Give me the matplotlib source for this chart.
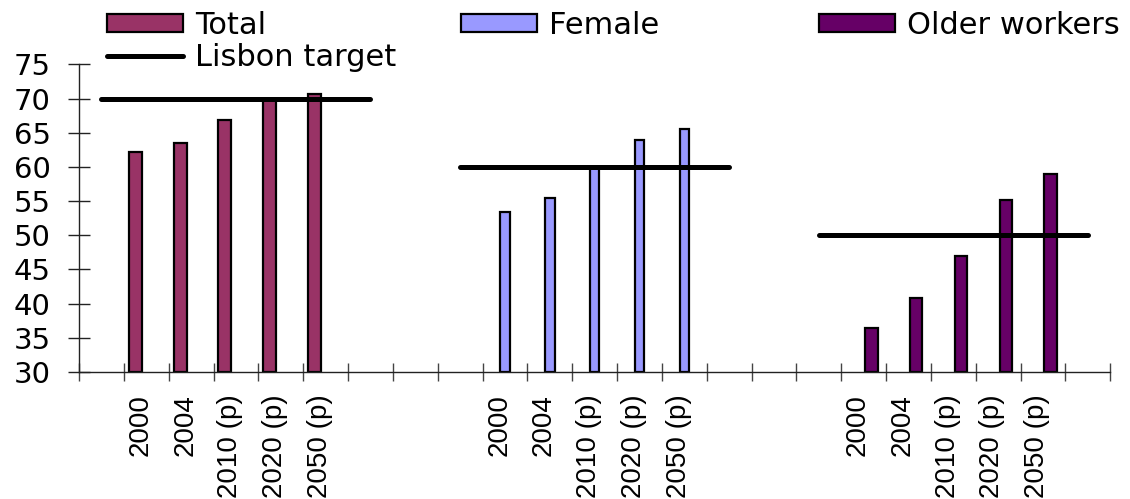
import numpy as np
import matplotlib.pyplot as plt
from matplotlib.patches import Patch
from matplotlib.lines import Line2D

plt.rcParams['font.family'] = ['Liberation Sans', 'DejaVu Sans']

# employment rates (%) and Lisbon targets per group
years = ['2000', '2004', '2010 (p)', '2020 (p)', '2050 (p)']
total = [62.2, 63.5, 66.8, 70.0, 70.7]
female = [53.4, 55.4, 60.0, 63.9, 65.5]
older = [36.5, 40.8, 46.9, 55.1, 59.0]
lisbon = [70, 60, 50]

group_start = [1, 9, 17]
n_cat = 23
wide = ['DejaVu Sans']

fig = plt.figure(figsize=(11.3, 4.99), dpi=100)
ax = fig.add_axes([0.0699, 0.2545, 0.9127, 0.6166])

labels = [''] * n_cat
for s in group_start:
    for i, y in enumerate(years):
        labels[s + i] = y

series = [
    (total, '#993366', -0.245, 0.29),
    (female, '#9999ff', 0.0, 0.21),
    (older, '#660066', 0.17, 0.28),
]
for (vals, col, off, w), s in zip(series, group_start):
    xs = np.arange(s, s + len(vals)) + 0.5 + off
    ax.bar(xs, np.array(vals) - 30, width=w, bottom=30, color=col,
           edgecolor='black', linewidth=1.6, zorder=2)

for tgt, s in zip(lisbon, group_start):
    xs = np.arange(s - 1, s + 6) + 0.5
    ax.plot(xs, [tgt] * len(xs), color='black', lw=3.6,
            solid_capstyle='round', zorder=3)

ax.set_xlim(0, n_cat)
ax.set_ylim(30, 75)
ax.set_yticks(range(30, 80, 5))
ax.set_yticklabels([str(v) for v in range(30, 80, 5)], family=wide, fontsize=21)
ax.set_xticks(np.arange(n_cat + 1))
ax.set_xticklabels([])
ax.set_xticks(np.arange(n_cat) + 0.37, minor=True)
ax.set_xticklabels(labels, minor=True, rotation=90, va='top', ha='center')

for sp in ['top', 'right']:
    ax.spines[sp].set_visible(False)
for sp in ['left', 'bottom']:
    ax.spines[sp].set_color('#222222')
    ax.spines[sp].set_linewidth(1.0)

ax.tick_params(axis='y', direction='inout', length=16.5, width=1.0,
               color='#222222', pad=12)
ax.tick_params(axis='x', which='major', direction='inout', length=13,
               width=1.0, color='#444444')
ax.tick_params(axis='x', which='minor', length=0, labelsize=20, pad=16)

hl = dict(prop={'family': wide, 'size': 22}, frameon=False,
          handlelength=2.48, handleheight=0.5, handletextpad=0.39,
          labelspacing=0.1, borderpad=0, borderaxespad=0)
tot_h = Patch(facecolor='#993366', edgecolor='black', linewidth=1.6)
fem_h = Patch(facecolor='#9999ff', edgecolor='black', linewidth=1.6)
old_h = Patch(facecolor='#660066', edgecolor='black', linewidth=1.6)
lis_h = Line2D([], [], color='black', lw=3.6, solid_capstyle='round')

top = 1 - 11 / 499
leg1 = fig.legend([tot_h, lis_h], ['Total', 'Lisbon target'],
                  loc='upper left', bbox_to_anchor=(107 / 1130, top), **hl)
leg2 = fig.legend([fem_h], ['Female'],
                  loc='upper left', bbox_to_anchor=(461 / 1130, top), **hl)
leg3 = fig.legend([old_h], ['Older workers'],
                  loc='upper left', bbox_to_anchor=(819 / 1130, top), **hl)

fig.savefig('out.png', dpi=100)
